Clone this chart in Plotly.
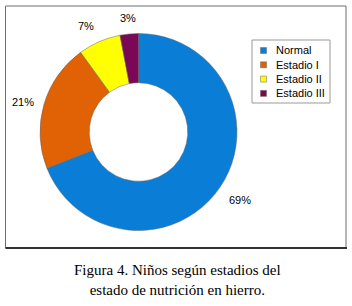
import math
import plotly.graph_objects as go

labels = ["Normal", "Estadio I", "Estadio II", "Estadio III"]
values = [69, 21, 7, 3]
colors = ["#0A7ED6", "#E06205", "#FFFF00", "#7B0856"]
caption_lines = ["Figura 4. Niños según estadios del", "estado de nutrición en hierro."]

W, H = 352, 306
cx, cy, r = 138.5, 132, 98.5

def px(x):
    return x / W

def py(y):
    return (H - y) / H

fig = go.Figure(go.Pie(
    labels=labels, values=values, hole=0.5, sort=False,
    direction="clockwise", rotation=0,
    marker=dict(colors=colors, line=dict(color="#666666", width=0.5)),
    textinfo="none", hoverinfo="label+percent",
    domain=dict(x=[px(cx - r), px(cx + r)], y=[py(cy + r), py(cy - r)]),
))

# percentage labels placed outside each slice, from the data
total = sum(values)
cum = 0
for v in values:
    mid = (cum + v / 2) / total * 2 * math.pi
    cum += v
    s, c = math.sin(mid), math.cos(mid)
    rr = r + 8
    ax, ay = cx + rr * s, cy - rr * c
    xa = "left" if s > 0.3 else ("right" if s < -0.3 else "center")
    ya = "bottom" if c > 0.3 else ("top" if c < -0.3 else "middle")
    fig.add_annotation(text=f"{round(v / total * 100)}%", x=px(ax), y=py(ay),
                       xref="paper", yref="paper", showarrow=False,
                       xanchor=xa, yanchor=ya,
                       font=dict(family="Arial, Liberation Sans", size=11, color="#000"))

# frame
fig.add_shape(type="rect", xref="paper", yref="paper",
              x0=px(5.5), x1=px(346), y0=py(248), y1=py(6),
              line=dict(color="#6e6e6e", width=1), layer="below")
fig.add_shape(type="line", xref="paper", yref="paper",
              x0=px(5.5), x1=px(347), y0=py(248), y1=py(248),
              line=dict(color="#333333", width=2))

# legend box
lx0, ly0, lx1, ly1 = 252, 40, 330, 103
fig.add_shape(type="rect", xref="paper", yref="paper",
              x0=px(lx0), x1=px(lx1), y0=py(ly1), y1=py(ly0),
              line=dict(color="#999999", width=1))
for i, (lab, col) in enumerate(zip(labels, colors)):
    yc = 50.5 + i * 14.3
    fig.add_shape(type="rect", xref="paper", yref="paper",
                  x0=px(260.5), x1=px(266.5), y0=py(yc + 3), y1=py(yc - 3),
                  fillcolor=col, line=dict(color="#666666", width=0.5))
    fig.add_annotation(text=lab, x=px(274), y=py(yc), xref="paper", yref="paper",
                       showarrow=False, xanchor="left", yanchor="middle",
                       font=dict(family="Arial, Liberation Sans", size=11, color="#000"))

fig.add_annotation(text="<br>".join(caption_lines), x=px(177), y=py(279.5),
                   xref="paper", yref="paper", showarrow=False,
                   xanchor="center", yanchor="middle",
                   font=dict(family="Liberation Serif, Times New Roman", size=15, color="#000"),
                   align="center")

fig.update_layout(
    width=W, height=H, margin=dict(l=0, r=0, t=0, b=0),
    paper_bgcolor="white", plot_bgcolor="white",
    showlegend=False,
)

fig.write_html("out.html", config={"displayModeBar": False},
               post_script="document.body.style.margin='0';document.body.style.overflow='hidden';")
